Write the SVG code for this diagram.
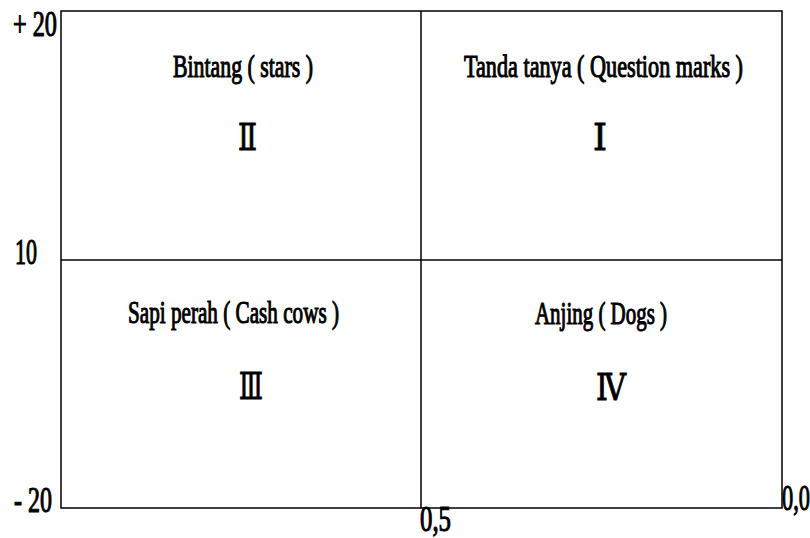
<svg xmlns="http://www.w3.org/2000/svg" width="810" height="538" viewBox="0 0 810 538">
<style>
.t{font-family:"Liberation Serif",serif;font-weight:normal;fill:#000;stroke:#000;stroke-width:1.1}
.lbl{font-size:31px}
.num{font-family:"DejaVu Serif",serif;font-size:38px;stroke-width:0.9}
.ax{font-size:35px}
.ln{stroke:#000;stroke-width:1.5;fill:none}
</style>
<rect width="810" height="538" fill="#fff"/>
<g id="connectors">
<rect class="ln" x="61" y="11" width="721" height="497"/>
<line class="ln" x1="421" y1="11" x2="421" y2="508"/>
<line class="ln" x1="61" y1="260" x2="782" y2="260"/>
</g>
<g id="q2">
<text class="t lbl" x="173" y="77" textLength="140" lengthAdjust="spacingAndGlyphs">Bintang ( stars )</text>
<text class="t num" x="238" y="150" textLength="19" lengthAdjust="spacingAndGlyphs">Ⅱ</text>
</g>
<g id="q1">
<text class="t lbl" x="464" y="77" textLength="279" lengthAdjust="spacingAndGlyphs">Tanda tanya ( Question marks )</text>
<text class="t num" x="593" y="150" textLength="14" lengthAdjust="spacingAndGlyphs">Ⅰ</text>
</g>
<g id="q3">
<text class="t lbl" x="128" y="323" textLength="211" lengthAdjust="spacingAndGlyphs">Sapi perah ( Cash cows )</text>
<text class="t num" x="239" y="399" textLength="24" lengthAdjust="spacingAndGlyphs">Ⅲ</text>
</g>
<g id="q4">
<text class="t lbl" x="535" y="324" textLength="132" lengthAdjust="spacingAndGlyphs">Anjing ( Dogs )</text>
<text class="t num" x="596" y="400" textLength="30" lengthAdjust="spacingAndGlyphs">Ⅳ</text>
</g>
<g id="axis">
<text class="t ax" x="13" y="36" textLength="44" lengthAdjust="spacingAndGlyphs">+ 20</text>
<text class="t ax" x="15" y="264" textLength="22" lengthAdjust="spacingAndGlyphs">10</text>
<text class="t ax" x="14" y="512" textLength="38" lengthAdjust="spacingAndGlyphs">- 20</text>
<text class="t ax" x="420" y="531" textLength="31" lengthAdjust="spacingAndGlyphs">0,5</text>
<text class="t ax" x="782" y="510" textLength="28" lengthAdjust="spacingAndGlyphs">0,0</text>
</g>
</svg>
